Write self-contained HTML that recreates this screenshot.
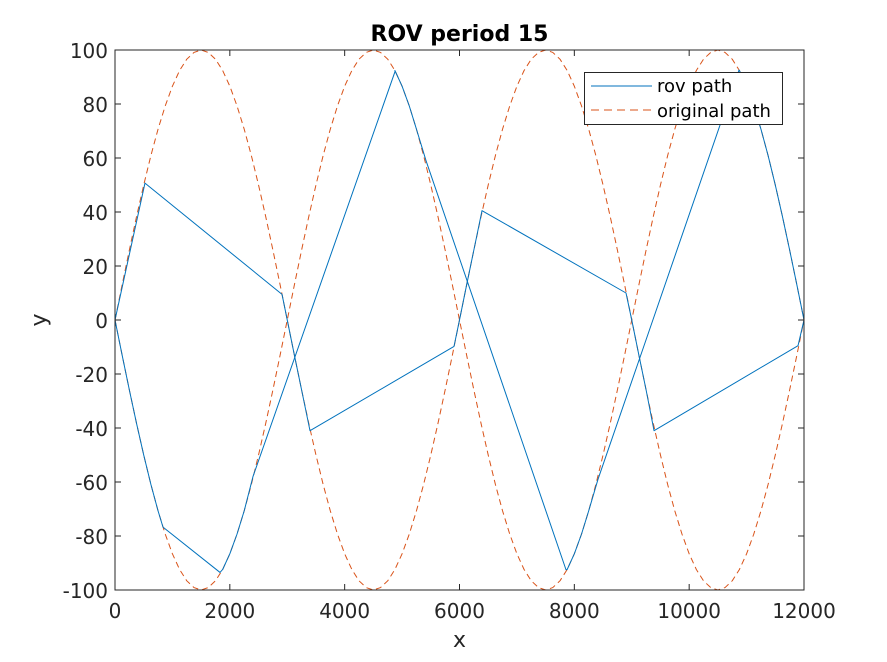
<!DOCTYPE html>
<html><head><meta charset="utf-8"><style>
body{margin:0;background:#fff;}
svg{display:block;font-family:"DejaVu Sans","Liberation Sans",sans-serif;}
</style></head><body>
<svg id="c" width="887" height="662"></svg>
<script>
const xTicks=[0,2000,4000,6000,8000,10000,12000];
const yTicks=[-100,-80,-60,-40,-20,0,20,40,60,80,100];
const origStep=125;
const origUpper=[0,13.1,25.9,38.3,50,60.9,70.7,79.3,86.6,92.4,96.6,99.1,100,99.1,96.6,92.4,86.6,79.3,70.7,60.9,50,38.3,25.9,13.1,0,-13.1,-25.9,-38.3,-50,-60.9,-70.7,-79.3,-86.6,-92.4,-96.6,-99.1,-100,-99.1,-96.6,-92.4,-86.6,-79.3,-70.7,-60.9,-50,-38.3,-25.9,-13.1,
0,13.1,25.9,38.3,50,60.9,70.7,79.3,86.6,92.4,96.6,99.1,100,99.1,96.6,92.4,86.6,79.3,70.7,60.9,50,38.3,25.9,13.1,0,-13.1,-25.9,-38.3,-50,-60.9,-70.7,-79.3,-86.6,-92.4,-96.6,-99.1,-100,-99.1,-96.6,-92.4,-86.6,-79.3,-70.7,-60.9,-50,-38.3,-25.9,-13.1,0];
const origLower=[0,-13.1,-25.9,-38.3,-50,-60.9,-70.7,-79.3,-86.6,-92.4,-96.6,-99.1,-100,-99.1,-96.6,-92.4,-86.6,-79.3,-70.7,-60.9,-50,-38.3,-25.9,-13.1,0,13.1,25.9,38.3,50,60.9,70.7,79.3,86.6,92.4,96.6,99.1,100,99.1,96.6,92.4,86.6,79.3,70.7,60.9,50,38.3,25.9,13.1,
0,-13.1,-25.9,-38.3,-50,-60.9,-70.7,-79.3,-86.6,-92.4,-96.6,-99.1,-100,-99.1,-96.6,-92.4,-86.6,-79.3,-70.7,-60.9,-50,-38.3,-25.9,-13.1,0,13.1,25.9,38.3,50,60.9,70.7,79.3,86.6,92.4,96.6,99.1,100,99.1,96.6,92.4,86.6,79.3,70.7,60.9,50,38.3,25.9,13.1,0];
const rovAX=[0,522,2909,3000,3125,3250,3396,5904,6000,6125,6250,6392,8900,9000,9125,9250,9388,11896,12000];
const rovAY=[0,50.7,9.5,0,-13.1,-25.9,-41,-9.8,0,13.1,25.9,40.5,10,0,-13.1,-25.9,-41,-9.5,0];
const rovBX=[0,125,250,375,500,625,750,836,1829,1875,2000,2125,2250,2403,4877,4875,5000,5125,5250,5417,7855,7875,8000,8125,8250,8412,10868,10875,11000,11125,11250,11375,11500,11625,11750,11875,12000];
const rovBY=[0,-13.1,-25.9,-38.3,-50,-60.9,-70.7,-76.7,-93.5,-92.4,-86.6,-79.3,-70.7,-58,92,92.4,86.6,79.3,70.7,59,-92.5,-92.4,-86.6,-79.3,-70.7,-59,92.6,92.4,86.6,79.3,70.7,60.9,50,38.3,25.9,13.1,0];

const L=115,R=804,T=50,B=590;
const sx=v=>L+(v-0)/12000*(R-L);
const sy=v=>B-(v+100)/200*(B-T);
const svg=document.getElementById('c');
const NS='http://www.w3.org/2000/svg';
function mk(tag,at,parent){const e=document.createElementNS(NS,tag);for(const k in at)e.setAttribute(k,at[k]);(parent||svg).appendChild(e);return e;}

const bg=mk('rect',{x:L,y:T,width:R-L,height:B-T,fill:'#fff'});



function line(xs,ys,attrs,name){
  const d=ys.map((y,i)=>(i?'L':'M')+sx(xs[i]).toFixed(2)+','+sy(y).toFixed(2)).join('');
  const p=mk('path',Object.assign({d:d,fill:'none','stroke-linejoin':'round'},attrs));
  
  
}
const origX=origUpper.map((_,i)=>i*origStep);
line(origX,origUpper,{stroke:'#D95319','stroke-width':1,'stroke-dasharray':'6,4'},'original-path-upper');
line(origX,origLower,{stroke:'#D95319','stroke-width':1,'stroke-dasharray':'6,4'},'original-path-lower');
line(rovAX,rovAY,{stroke:'#0072BD','stroke-width':1},'rov-path-a');
line(rovBX,rovBY,{stroke:'#0072BD','stroke-width':1},'rov-path-b');

const box=mk('rect',{x:L,y:T,width:R-L,height:B-T,fill:'none',stroke:'#262626','stroke-width':1});



xTicks.forEach(v=>{
  const x=sx(v);
  mk('line',{x1:x,x2:x,y1:B,y2:B-6,stroke:'#262626'});
  mk('line',{x1:x,x2:x,y1:T,y2:T+6,stroke:'#262626'});
  const t=mk('text',{x:x,y:B+28,'text-anchor':'middle','font-size':20,fill:'#262626'});
  t.textContent=v;
  
  
});
yTicks.forEach(v=>{
  const y=sy(v);
  mk('line',{x1:L,x2:L+6,y1:y,y2:y,stroke:'#262626'});
  mk('line',{x1:R,x2:R-6,y1:y,y2:y,stroke:'#262626'});
  const t=mk('text',{x:L-7,y:y+8,'text-anchor':'end','font-size':20,fill:'#262626'});
  t.textContent=v;
  
  
});
const xt=mk('text',{x:(L+R)/2,y:647,'text-anchor':'middle','font-size':22,fill:'#262626'});
xt.textContent='x';


const yt=mk('text',{x:46,y:320,'text-anchor':'middle','font-size':22,fill:'#262626',transform:'rotate(-90 46 320)'});
yt.textContent='y';


const tt=mk('text',{x:(L+R)/2,y:41,'text-anchor':'middle','font-size':22,'font-weight':'bold',fill:'#000'});
tt.textContent='ROV period 15';



const lg=mk('g',{});


mk('rect',{x:584.5,y:72.5,width:198,height:52,fill:'#fff',stroke:'#262626'},lg);
mk('line',{x1:591,x2:652,y1:86,y2:86,stroke:'#0072BD'},lg);
mk('line',{x1:591,x2:652,y1:110,y2:110,stroke:'#D95319','stroke-dasharray':'8,5'},lg);
const l1=mk('text',{x:657,y:92,'font-size':18,fill:'#000'},lg);
l1.textContent='rov path';


const l2=mk('text',{x:657,y:117,'font-size':18,fill:'#000'},lg);
l2.textContent='original path';


</script>
</body></html>
